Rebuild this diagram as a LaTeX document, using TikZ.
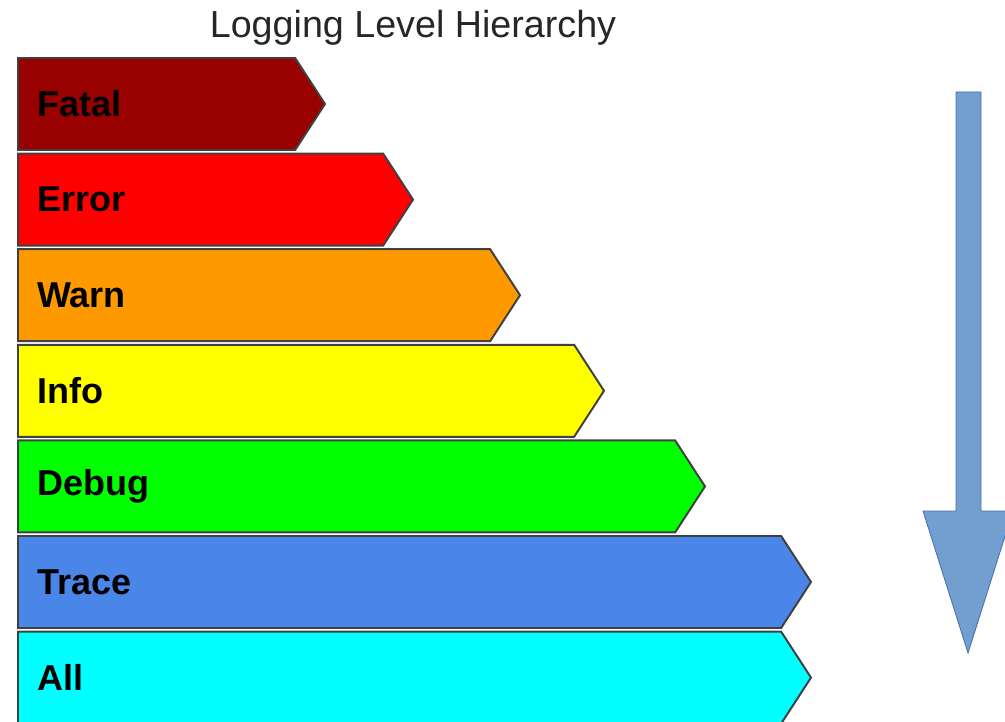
\documentclass[tikz,border=0pt]{standalone}
\usepackage{fontspec}
\setmainfont{Liberation Sans}
\usetikzlibrary{shapes.symbols, positioning}
\definecolor{fatalcol}{RGB}{153,0,0}
\definecolor{errorcol}{RGB}{255,0,0}
\definecolor{warncol}{RGB}{255,153,0}
\definecolor{infocol}{RGB}{255,255,0}
\definecolor{debugcol}{RGB}{0,255,0}
\definecolor{tracecol}{RGB}{74,134,232}
\definecolor{allcol}{RGB}{0,255,255}
\definecolor{arrowcol}{RGB}{114,159,207}
\definecolor{arrowedge}{RGB}{72,112,170}
\tikzstyle{levelbar} = [signal, signal to=east, signal pointer angle=114, minimum height=2.3cm, inner sep=0pt, outer sep=0pt, draw=black!75, line width=1.4pt]
\tikzstyle{leveltext} = [inner sep=0pt, font=\bfseries\fontsize{25.6}{30}\selectfont]
\tikzstyle{title} = [inner sep=0pt, text=black!85, font=\fontsize{26.8}{32}\selectfont]
\tikzstyle{bigarrow} = [fill=arrowcol, draw=arrowedge, line width=0.6pt]

\begin{document}
\begin{tikzpicture}

    \useasboundingbox (0,0) rectangle (25.125,-18.05);

    \node (heading) [title, anchor=base] at (10.325,-0.94) {Logging Level Hierarchy};

    \node (fatal) [levelbar, fill=fatalcol, minimum width=7.675cm, anchor=north west] at (0.45,-1.45) {};
    \node (error) [levelbar, fill=errorcol, minimum width=9.875cm, below=0.09cm of fatal.south west, anchor=north west] {};
    \node (warn) [levelbar, fill=warncol, minimum width=12.55cm, below=0.09cm of error.south west, anchor=north west] {};
    \node (info) [levelbar, fill=infocol, minimum width=14.65cm, below=0.09cm of warn.south west, anchor=north west] {};
    \node (debug) [levelbar, fill=debugcol, minimum width=17.175cm, below=0.09cm of info.south west, anchor=north west] {};
    \node (trace) [levelbar, fill=tracecol, minimum width=19.825cm, below=0.09cm of debug.south west, anchor=north west] {};
    \node (all) [levelbar, fill=allcol, minimum width=19.825cm, below=0.09cm of trace.south west, anchor=north west] {};

    \node (fatallabel) [leveltext, right=0.475cm of fatal.west] {Fatal};
    \node (errorlabel) [leveltext, right=0.475cm of error.west] {Error};
    \node (warnlabel) [leveltext, right=0.475cm of warn.west] {Warn};
    \node (infolabel) [leveltext, right=0.475cm of info.west] {Info};
    \node (debuglabel) [leveltext, right=0.475cm of debug.west] {Debug};
    \node (tracelabel) [leveltext, right=0.475cm of trace.west] {Trace};
    \node (alllabel) [leveltext, right=0.475cm of all.west] {All};

    % downward arrow on the right
    \draw [bigarrow] (23.9,-2.3) -- (24.525,-2.3) -- (24.525,-12.775) -- (25.325,-12.775)
        -- (24.2,-16.325) -- (23.075,-12.775) -- (23.9,-12.775) -- cycle;

\end{tikzpicture}
\end{document}
